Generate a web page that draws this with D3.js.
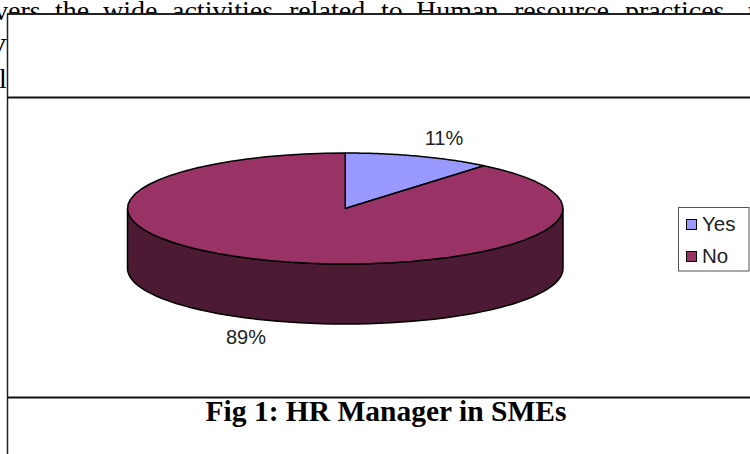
<!DOCTYPE html>
<html><head><meta charset="utf-8">
<script src="https://cdn.jsdelivr.net/npm/d3@7"></script>
<style>html,body{margin:0;padding:0;background:#fff}svg{display:block}</style>
</head><body><div id="c"></div>
<script>
const categories = ["Yes", "No"];
const values = [11, 89];
const sliceLabels = ["11%", "89%"];
const colors = ["#9999FF", "#993366"];
const sideColor = "#4D1A33";
const title = "Fig 1: HR Manager in SMEs";
const bodyWords = ["vers","the","wide","activities","related","to","Human","resource","practices,","t"];

const W = 750, H = 454;
const svg = d3.select("#c").append("svg").attr("width", W).attr("height", H);
const serif = "'Liberation Serif','Times New Roman',serif";
const sans = "'Liberation Sans',Arial,sans-serif";

// body text behind the chart frame
const wordX = [-6, 55, 103, 172, 289, 381, 416, 514, 625, 748];
svg.selectAll("text.body").data(bodyWords).join("text").attr("class","body")
  .attr("x",(d,i)=>wordX[i]).attr("y",19.5)
  .attr("font-family",serif).attr("font-size",28).attr("fill","#000").text(d=>d);
svg.append("text").attr("x",-13).attr("y",57).attr("font-family",serif).attr("font-size",28).text("V");
svg.append("text").attr("x",-1).attr("y",88).attr("font-family",serif).attr("font-size",28).text("l");

// frames
svg.append("rect").attr("x",7).attr("y",14).attr("width",W).attr("height",384).attr("fill","#fff");
const frame = d3.line();
svg.append("path").attr("d",frame([[7,14],[750,14]])).attr("stroke","#222").attr("stroke-width",2);
svg.append("path").attr("d",frame([[7.5,14],[7.5,454]])).attr("stroke","#222").attr("stroke-width",1.5);
svg.append("path").attr("d",frame([[7,97.5],[750,97.5]])).attr("stroke","#111").attr("stroke-width",2);
svg.append("path").attr("d",frame([[7,397.5],[750,397.5]])).attr("stroke","#111").attr("stroke-width",2);

// pie
const x = d3.scaleLinear().domain([-1,1]).range([127.5,563]);
const y = d3.scaleLinear().domain([-1,1]).range([153,264]);
const depth = 60;
const pie = d3.pie().sort(null).value(d=>d);
const arcs = pie(values);
const pt = a => [x(Math.sin(a)), y(-Math.cos(a))];
const sweep = (a0,a1) => d3.range(0,61).map(i=>pt(a0+(a1-a0)*i/60));
const line = d3.line();
const front = sweep(Math.PI/2, 3*Math.PI/2);
const wall = front.concat(front.slice().reverse().map(p=>[p[0],p[1]+depth]));
svg.append("path").attr("d",line(wall)+"Z").attr("fill",sideColor).attr("stroke","#000").attr("stroke-width",1.5);
svg.selectAll("path.slice").data(arcs).join("path").attr("class","slice")
  .attr("d",d=>line([[x(0),y(0)],...sweep(d.startAngle,d.endAngle)])+"Z")
  .attr("fill",(d,i)=>colors[i]).attr("stroke","#000").attr("stroke-width",1.5).attr("stroke-linejoin","round");

// labels
const labelPos = [[444,145],[246,344]];
svg.selectAll("text.pct").data(sliceLabels).join("text").attr("class","pct")
  .attr("x",(d,i)=>labelPos[i][0]).attr("y",(d,i)=>labelPos[i][1]).attr("text-anchor","middle")
  .attr("font-family",sans).attr("font-size",20).attr("fill","#222").text(d=>d);

// legend
svg.append("rect").attr("x",678.5).attr("y",207.5).attr("width",70.5).attr("height",63.5)
  .attr("fill","#fff").attr("stroke","#555").attr("stroke-width",1);
const ly = d3.scalePoint().domain(categories).range([224.5,256.5]);
categories.forEach((c,i)=>{
  svg.append("rect").attr("x",686.5).attr("y",ly(c)-5).attr("width",10).attr("height",10)
    .attr("fill",colors[i]).attr("stroke","#000").attr("stroke-width",1);
  svg.append("text").attr("x",702).attr("y",ly(c)+6).attr("font-family",sans).attr("font-size",20.5).attr("fill","#222").text(c);
});

// caption
svg.append("text").attr("x",386).attr("y",421).attr("text-anchor","middle")
  .attr("font-family",serif).attr("font-weight","bold").attr("font-size",29.5).attr("fill","#000").text(title);
</script></body></html>
